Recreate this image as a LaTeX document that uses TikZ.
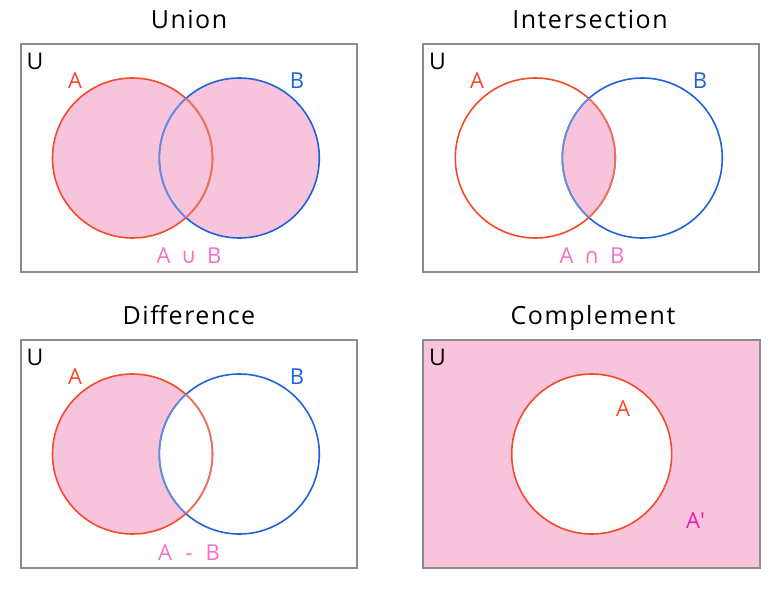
\documentclass[tikz,border=0pt]{standalone}
\usepackage{fontspec}
\setmainfont{Open Sans}[LetterSpace = 6]
\newfontfamily\symfont{DejaVu Sans}
\definecolor{setpink}{HTML}{F8C4DB}
\definecolor{setred}{HTML}{F44A2A}
\definecolor{setredfade}{HTML}{E8735F}
\definecolor{setblue}{HTML}{1F63DB}
\definecolor{setbluefade}{HTML}{6A8CDB}
\definecolor{setframe}{HTML}{8C8C8C}
\definecolor{oplabel}{HTML}{F072CC}
\definecolor{complabel}{HTML}{E620A8}

\begin{document}
\begin{tikzpicture}[x = 1pt, y = -1pt,
	frame/.style = {draw = setframe, line width = 1.6pt},
	ring/.style = {line width = 1.6pt},
	title/.style = {anchor = base, font = \fontsize{25}{28}\selectfont},
	setname/.style = {anchor = base, font = \fontsize{22}{24}\selectfont},
	oplbl/.style = {setname, text = oplabel}]
			\useasboundingbox (0, 0) rectangle (780, 589);
			% panels
			\foreach \px/\py in {21/44, 423/44, 21/340}
			\draw[frame, fill = white] (\px, \py) rectangle ++(336, 228);
			\draw[frame, fill = setpink] (423, 340) rectangle ++(337, 228);
			% union
			\fill[setpink] (132.5, 158) circle (80) (239.3, 158) circle (80);
			% intersection
			\begin{scope}
				\clip (535.3, 158) circle (80);
				\fill[setpink] (642.3, 158) circle (80);
			\end{scope}
			% difference
			\begin{scope}[even odd rule]
				\clip (239.3, 454) circle (80) (0, 0) rectangle (780, 589);
				\fill[setpink] (132.5, 454) circle (80);
			\end{scope}
			% complement
			\fill[white] (591.7, 454) circle (80);
			\draw[ring, setred] (591.7, 454) circle (80);
			% circles A and B, inner arcs a bit faded
			\foreach \ax/\bx/\cy in {132.5/239.3/158, 535.3/642.3/158, 132.5/239.3/454} {
				\draw[ring, setred] (\ax, \cy) circle (80);
				\draw[ring, setblue] (\bx, \cy) circle (80);
				\begin{scope}
					\clip (\bx, \cy) circle (80);
					\draw[ring, setredfade] (\ax, \cy) circle (80);
				\end{scope}
				\begin{scope}
					\clip (\ax, \cy) circle (80);
					\draw[ring, setbluefade] (\bx, \cy) circle (80);
				\end{scope}
			}
			% titles
			\node[title] (union) at (189, 28) {Union};
			\node[title] (inter) at (590, 28) {Intersection};
			\node[title] (diff) at (189, 324) {Difference};
			\node[title] (comp) at (593, 324) {Complement};
			% labels
			\foreach \ux/\uy/\nm in {35/69/u1, 437.5/69/u2, 35/365/u3, 437.5/365/u4}
			\node[setname, font = \fontsize{23}{24}\selectfont] (\nm) at (\ux, \uy) {U};
			\node[setname, text = setred] (a1) at (75, 88) {A};
			\node[setname, text = setblue] (b1) at (297, 88) {B};
			\node[setname, text = setred] (a2) at (477, 88) {A};
			\node[setname, text = setblue] (b2) at (700, 88) {B};
			\node[setname, text = setred] (a3) at (75, 384) {A};
			\node[setname, text = setblue] (b3) at (297, 384) {B};
			\node[setname, text = setred] (a4) at (623, 416) {A};
			\node[oplbl] (cup) at (189, 263) {A \,{\symfont\fontsize{21}{22}\selectfont ∪}\, B};
			\node[oplbl] (cap) at (592, 263) {A \,{\symfont\fontsize{21}{22}\selectfont ∩}\, B};
			\node[oplbl] (minus) at (189, 560) {A \;-\; B};
			\node[setname, text = complabel] (acomp) at (695.5, 528) {A\textquotesingle};
			\end{tikzpicture}
\end{document}
